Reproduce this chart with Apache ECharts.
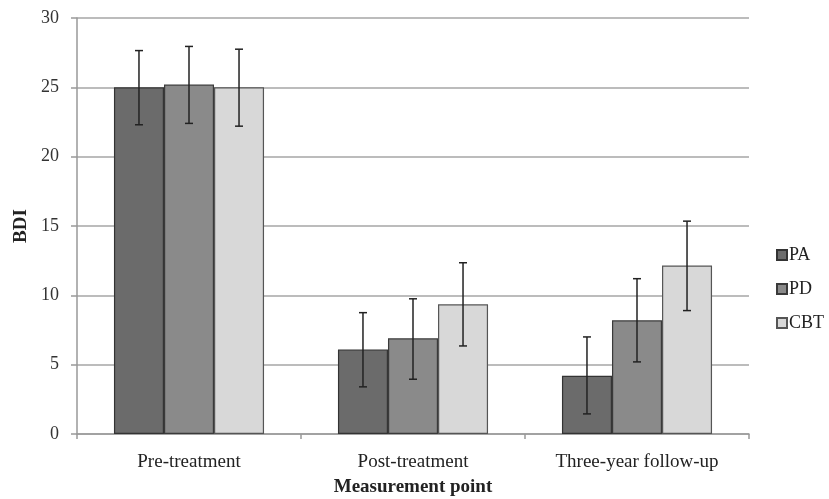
<!DOCTYPE html>
<html>
<head>
<meta charset="utf-8">
<script src="https://cdn.jsdelivr.net/npm/echarts@6/dist/echarts.min.js"></script>
<style>html,body{margin:0;padding:0;background:#fff}#c{width:829px;height:499px}</style>
</head>
<body>
<div id="c"></div>
<script>
const categories = ['Pre-treatment', 'Post-treatment', 'Three-year follow-up'];
const seriesNames = ['PA', 'PD', 'CBT'];
const paMean = [25.0, 6.1, 4.2];
const pdMean = [25.2, 6.9, 8.2];
const cbtMean = [25.0, 9.35, 12.15];
const paLow = [22.3, 3.4, 1.45];
const paHigh = [27.65, 8.75, 7.0];
const pdLow = [22.4, 3.95, 5.2];
const pdHigh = [27.95, 9.75, 11.2];
const cbtLow = [22.2, 6.35, 8.9];
const cbtHigh = [27.75, 12.35, 15.35];
const yTicks = [0, 5, 10, 15, 20, 25, 30];

const means = [paMean, pdMean, cbtMean];
const lows = [paLow, pdLow, cbtLow];
const highs = [paHigh, pdHigh, cbtHigh];
const colors = ['#6b6b6b', '#8a8a8a', '#d8d8d8'];
const borders = ['#333333', '#3a3a3a', '#555555'];
const FONT = '"Liberation Serif", "DejaVu Serif", serif';
const GAP = 0.33;

const chart = echarts.init(document.getElementById('c'));
const series = [];
seriesNames.forEach((n, i) => {
  series.push({
    name: n, type: 'bar', data: means[i], barGap: '0%', barCategoryGap: '33%',
    itemStyle: { color: colors[i], borderColor: borders[i], borderWidth: 1.2 },
    z: 2
  });
});
seriesNames.forEach((n, i) => {
  series.push({
    type: 'custom', name: n + '_err', z: 5,
    data: categories.map((c, k) => [k, lows[i][k], highs[i][k]]),
    encode: { x: 0, y: [1, 2] },
    renderItem: function (params, api) {
      const k = api.value(0);
      const lo = api.coord([k, api.value(1)]);
      const hi = api.coord([k, api.value(2)]);
      const band = api.size([1, 0])[0];
      const bw = band * (1 - GAP) / 3;
      const x = lo[0] + (i - 1) * bw;
      const cap = 4;
      const st = { stroke: '#222', lineWidth: 1.5 };
      return { type: 'group', children: [
        { type: 'line', shape: { x1: x, y1: lo[1], x2: x, y2: hi[1] }, style: st },
        { type: 'line', shape: { x1: x - cap, y1: lo[1], x2: x + cap, y2: lo[1] }, style: st },
        { type: 'line', shape: { x1: x - cap, y1: hi[1], x2: x + cap, y2: hi[1] }, style: st }
      ]};
    }
  });
});

chart.setOption({
  animation: false,
  backgroundColor: '#fff',
  textStyle: { fontFamily: FONT },
  grid: { left: 77, right: 80, top: 18, bottom: 65, containLabel: false, outerBoundsMode: 'none' },
  legend: {
    data: seriesNames.map(n => ({ name: n, icon: 'rect' })),
    orient: 'vertical', left: 771, top: 241,
    itemWidth: 10, itemHeight: 10, itemGap: 16,
    textStyle: { fontFamily: FONT, fontSize: 18, color: '#222', padding: [0, 0, 0, -3], lineHeight: 18 }
  },
  xAxis: {
    type: 'category', data: categories,
    name: 'Measurement point', nameLocation: 'middle', nameGap: 44,
    nameTextStyle: { fontFamily: FONT, fontSize: 19, fontWeight: 'bold', color: '#222' },
    axisLine: { lineStyle: { color: '#999', width: 1.5 } },
    axisTick: { show: true, length: 5, lineStyle: { color: '#999', width: 1.5 } },
    axisLabel: { fontFamily: FONT, fontSize: 19, color: '#222', margin: 19 }
  },
  yAxis: {
    type: 'value', min: 0, max: 30, interval: 5,
    name: 'BDI', nameLocation: 'middle', nameGap: 46, nameRotate: 90,
    nameTextStyle: { fontFamily: FONT, fontSize: 19, fontWeight: 'bold', color: '#222' },
    axisLine: { show: true, lineStyle: { color: '#999', width: 1.5 } },
    axisTick: { show: true, length: 6, lineStyle: { color: '#999', width: 1.5 } },
    axisLabel: { fontFamily: FONT, fontSize: 18, color: '#333', margin: 18,
      formatter: v => yTicks.includes(v) ? String(v) : '' },
    splitLine: { lineStyle: { color: '#a6a6a6', width: 1.5 } }
  },
  series: series
});
</script>
</body>
</html>
